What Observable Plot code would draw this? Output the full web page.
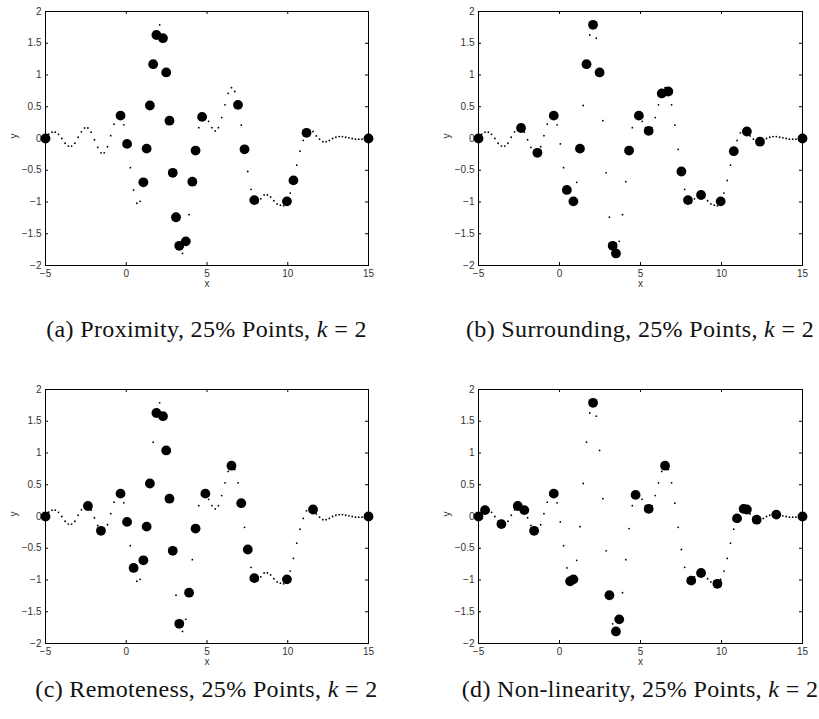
<!DOCTYPE html>
<html><head><meta charset="utf-8">
<script src="https://cdn.jsdelivr.net/npm/d3@7"></script>
<script src="https://cdn.jsdelivr.net/npm/@observablehq/plot@0.6"></script>
<style>
body{margin:0;background:#fff;}
#root{position:relative;width:819px;height:719px;overflow:hidden;background:#fff;}
.panel{position:absolute;}
.cap{position:absolute;font-family:"Liberation Serif","Times New Roman",serif;font-size:24px;letter-spacing:0.35px;line-height:26px;white-space:nowrap;transform:translateX(-50%);color:#111;}
</style></head><body><div id="root"></div>
<script>
// sampled curve values (100 samples over x in [-5, 15])
const curveY = [
  0.00, 0.07, 0.10, 0.10, 0.065, 0.00, -0.075, -0.12, -0.12, -0.075,
  0.02, 0.105, 0.165, 0.165, 0.10, -0.02, -0.14, -0.225, -0.225, -0.13,
  0.045, 0.225, 0.35, 0.36, 0.215, -0.085, -0.46, -0.81, -1.02, -0.99,
  -0.69, -0.16, 0.52, 1.17, 1.63, 1.79, 1.58, 1.04, 0.28, -0.54,
  -1.24, -1.69, -1.81, -1.62, -1.20, -0.68, -0.19, 0.17, 0.34, 0.36,
  0.27, 0.17, 0.12, 0.17, 0.33, 0.53, 0.71, 0.80, 0.74, 0.53,
  0.21, -0.17, -0.52, -0.80, -0.97, -1.01, -0.95, -0.89, -0.89, -0.92,
  -0.98, -1.03, -1.05, -1.06, -0.99, -0.86, -0.66, -0.42, -0.20, -0.03,
  0.09, 0.12, 0.11, 0.04, -0.01, -0.05, -0.05, -0.03, 0.00, 0.02,
  0.03, 0.03, 0.02, 0.01, 0.00, -0.01, -0.01, -0.01, -0.005, 0.00
];
const xMin = -5, xMax = 15;
// indices of the selected (25%) points in each panel
const selProximity   = [0,23,25,30,31,32,33,34,36,37,38,39,40,41,43,45,46,48,59,61,64,74,76,80,99];
const selSurrounding = [0,13,18,23,27,29,31,33,35,37,41,42,46,49,52,56,58,62,64,68,74,78,82,86,99];
const selRemoteness  = [0,13,17,23,25,27,30,31,32,34,36,37,38,39,41,44,46,49,57,60,62,64,74,82,99];
const selNonlinear   = [0,2,7,12,14,17,23,28,29,35,40,42,43,48,52,57,65,68,73,79,81,82,85,91,99];

const xTicks = [-5, 0, 5, 10, 15];
const xTickLabels = ["\u22125", "0", "5", "10", "15"];
const yTicks = [-2, -1.5, -1, -0.5, 0, 0.5, 1, 1.5, 2];
const yTickLabels = ["\u22122", "\u22121.5", "\u22121", "\u22120.5", "0", "0.5", "1", "1.5", "2"];

const capLetters = ["(a)", "(b)", "(c)", "(d)"];
const capMethods = ["Proximity", "Surrounding", "Remoteness", "Non-linearity"];
const capPercent = "25%";
const capK = 2;

const n = curveY.length;
const curve = curveY.map((y, i) => ({x: xMin + i * (xMax - xMin) / (n - 1), y}));

const root = document.getElementById("root");

function makePanel(sel, left, top, width, mr, idx, capTop) {
  const H = 300, mt = 11, mb = 35, ml = 45;
  const fh = H - mt - mb, fw = width - ml - mr;
  const pts = sel.map(i => curve[i]);
  const chart = Plot.plot({
    width, height: H,
    marginLeft: ml, marginRight: mr, marginTop: mt, marginBottom: mb,
    x: {domain: [xMin, xMax]},
    y: {domain: [-2, 2]},
    style: {fontFamily: "'Liberation Sans', Arial, sans-serif", fontSize: "10px", color: "#000", background: "#fff", overflow: "visible"},
    marks: [
      Plot.frame({stroke: "#000", strokeWidth: 1}),
      Plot.axisX({ticks: xTicks, tickSize: 0, tickPadding: 4, tickFormat: d => xTickLabels[xTicks.indexOf(d)], label: null, fill: "#333"}),
      Plot.axisY({ticks: yTicks, tickSize: 0, tickPadding: 4, tickFormat: d => yTickLabels[yTicks.indexOf(d)], label: null, fill: "#333"}),
      Plot.tickX(xTicks, {x: d => d, insetTop: fh - 3, stroke: "#000"}),
      Plot.tickX(xTicks, {x: d => d, insetBottom: fh - 3, stroke: "#000"}),
      Plot.tickY(yTicks, {y: d => d, insetRight: fw - 3, stroke: "#000"}),
      Plot.tickY(yTicks, {y: d => d, insetLeft: fw - 3, stroke: "#000"}),
      Plot.dot(curve, {x: "x", y: "y", r: 0.9, fill: "#000"}),
      Plot.dot(pts, {x: "x", y: "y", r: 4.9, fill: "#000"}),
      Plot.text(["x"], {frameAnchor: "bottom", dy: 21, fill: "#333"}),
      Plot.text(["y"], {frameAnchor: "left", dx: -32, rotate: -90, fill: "#333"})
    ]
  });
  const div = document.createElement("div");
  div.className = "panel";
  div.style.left = left + "px";
  div.style.top = top + "px";
  div.appendChild(chart);
  root.appendChild(div);

  const cap = document.createElement("div");
  cap.className = "cap";
  cap.style.left = (left + ml + fw / 2) + "px";
  cap.style.top = capTop + "px";
  cap.innerHTML = `${capLetters[idx]} ${capMethods[idx]}, ${capPercent} Points, <i>k</i> = ${capK}`;
  root.appendChild(cap);
}

makePanel(selProximity,   0,   0,   410, 42, 0, 316);
makePanel(selSurrounding, 433, 0,   386, 17, 1, 316);
makePanel(selRemoteness,  0,   378, 410, 42, 2, 676);
makePanel(selNonlinear,   433, 378, 386, 17, 3, 676);
</script></body></html>
